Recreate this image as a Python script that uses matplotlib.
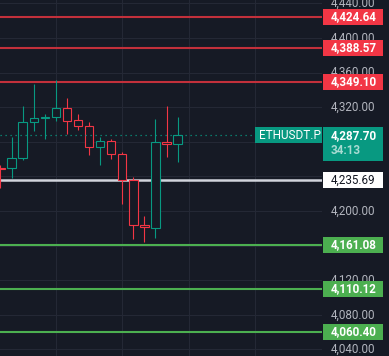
import matplotlib.pyplot as plt
import matplotlib.transforms as mtransforms
from matplotlib.patches import Rectangle

### Data
opens  = [4250.0, 4249.4, 4260.9, 4302.5, 4307.6, 4308.4, 4318.8, 4305.1, 4297.9,
          4273.6, 4280.6, 4265.5, 4235.8, 4183.5, 4180.9, 4279.4, 4277.1]
highs  = [4253.2, 4285.2, 4321.4, 4346.8, 4312.1, 4351.4, 4330.6, 4312.1, 4302.9,
          4285.2, 4282.9, 4267.9, 4239.0, 4194.2, 4306.0, 4321.4, 4308.7]
lows   = [4226.6, 4237.8, 4259.3, 4292.8, 4283.2, 4304.4, 4289.4, 4294.2, 4265.1,
          4253.5, 4259.8, 4208.1, 4168.0, 4164.5, 4169.1, 4262.8, 4257.0]
closes = [4249.0, 4260.9, 4302.5, 4307.2, 4308.4, 4318.8, 4304.4, 4297.7, 4273.6,
          4280.6, 4265.5, 4235.8, 4183.5, 4181.2, 4279.4, 4277.1, 4287.7]

resistance = [4424.64, 4388.57, 4349.10]
pivot = 4235.69
support = [4161.08, 4110.12, 4060.40]
last_price = 4287.70
countdown = "34:13"
symbol = "ETHUSDT.P"
price_ticks = list(range(4040, 4441, 40))
vgrid = [5, 11, 17, 23]

### Style
bg = "#161a25"
grid_c = "#242835"
up_c = "#089981"
down_c = "#f23645"
res_line = "#c2303b"
sup_c = "#4caf50"
piv_c = "#d1d4dc"
tick_c = "#b2b5be"
plt.rcParams['font.family'] = ['Roboto', 'DejaVu Sans']

W, H = 389, 356
pane_w = 322
ymin, ymax = 4032.4, 4443.9
unit = (ymax - ymin) / H  # price units per pixel

fig = plt.figure(figsize=(W / 100, H / 100), dpi=100)
fig.patch.set_facecolor(bg)
ax = fig.add_axes([0, 0, pane_w / W, 1])
sc = fig.add_axes([pane_w / W, 0, 1 - pane_w / W, 1], sharey=ax)
for a in (ax, sc):
    a.axis('off')
ax.set_ylim(ymin, ymax)
ax.set_xlim(-0.045, 29.04)

# Grid
for t in price_ticks:
    ax.axhline(t, color=grid_c, lw=0.8, zorder=0)
for v in vgrid:
    ax.axvline(v, color=grid_c, lw=0.8, zorder=0)

# Hollow candles
bw = 0.75
for i, (o, h, l, c) in enumerate(zip(opens, highs, lows, closes)):
    col = up_c if c >= o else down_c
    ax.plot([i, i], [l, h], color=col, lw=0.8, zorder=3, solid_capstyle='butt')
    lo, hi = min(o, c), max(o, c)
    ax.add_patch(Rectangle((i - bw / 2, lo), bw, max(hi - lo, unit * 0.8),
                           facecolor=bg, edgecolor=col, lw=0.8, zorder=4))

# Level lines
for lv in resistance:
    ax.axhline(lv, color=res_line, lw=1.5, zorder=2)
for lv in support:
    ax.axhline(lv, color=sup_c, lw=1.5, zorder=2)
ax.axhline(pivot, color=piv_c, lw=1.8, zorder=2)

# Last price dotted line + symbol tag
sym_x0 = 255 / pane_w
ax.axhline(last_price, xmax=sym_x0, color=up_c, lw=0.9, ls=(0, (1, 3)), zorder=5)
tr_ax = mtransforms.blended_transform_factory(ax.transAxes, ax.transData)
ax.add_patch(Rectangle((sym_x0, last_price - 8 * unit), 1 - sym_x0, 16.5 * unit,
                       transform=tr_ax, facecolor=up_c, edgecolor='none', zorder=6, clip_on=False))
ax.text((sym_x0 + 1) / 2 + 0.003, last_price, symbol, transform=tr_ax, ha='center', va='center',
        color='white', fontsize=8.5, zorder=7)

# Price scale (ticks hidden under a tag are not drawn, as on the original)
tags = resistance + support + [pivot, last_price]
tr_sc = mtransforms.blended_transform_factory(sc.transAxes, sc.transData)
tx = 0.134
for t in price_ticks:
    if min(abs(t - p) for p in tags) < 9:
        continue
    sc.text(tx, t, f"{t:,.2f}", transform=tr_sc, ha='left', va='center',
            color=tick_c, fontsize=8.4, zorder=1)

bx0, bw_sc = 0.01, 0.9
def tag(price, face, txt_c, weight='bold'):
    sc.add_patch(Rectangle((bx0, price - 8 * unit), bw_sc, 16 * unit, transform=tr_sc,
                           facecolor=face, edgecolor='none', zorder=3, clip_on=False))
    sc.text(tx, price, f"{price:,.2f}", transform=tr_sc, ha='left', va='center',
            color=txt_c, fontsize=8.4, fontweight=weight, zorder=4)

for lv in resistance:
    tag(lv, down_c, 'white')
for lv in support:
    tag(lv, sup_c, 'white')
tag(pivot, 'white', '#131722', weight='normal')

# Current price tag with countdown
sc.add_patch(Rectangle((bx0, last_price - 26 * unit), bw_sc, 34.5 * unit, transform=tr_sc,
                       facecolor=up_c, edgecolor='none', zorder=3, clip_on=False))
sc.text(tx, last_price, f"{last_price:,.2f}", transform=tr_sc, ha='left', va='center',
        color='white', fontsize=8.4, fontweight='bold', zorder=4)
sc.text(tx, last_price - 15 * unit, countdown, transform=tr_sc, ha='left', va='center',
        color='white', alpha=0.65, fontsize=8.4, fontweight='bold', zorder=4)

fig.savefig('out.png', dpi=100, facecolor=bg)
